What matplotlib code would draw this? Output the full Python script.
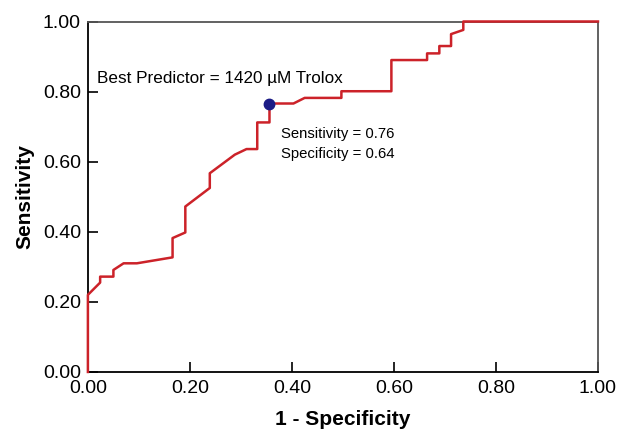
import matplotlib
matplotlib.use("Agg")
from matplotlib import pyplot as plt

plt.rcParams['font.family'] = ['Liberation Sans', 'DejaVu Sans']

# ROC curve
fpr = [0.0, 0.0, 0.024, 0.024, 0.05, 0.05, 0.07, 0.096, 0.166, 0.166, 0.191, 0.191,
       0.239, 0.239, 0.288, 0.311, 0.332, 0.332, 0.356, 0.356, 0.403, 0.425, 0.497,
       0.497, 0.595, 0.595, 0.665, 0.665, 0.689, 0.689, 0.712, 0.712, 0.736, 0.736, 1.0]
tpr = [0.0, 0.22, 0.255, 0.272, 0.272, 0.291, 0.31, 0.31, 0.327, 0.382, 0.398, 0.472,
       0.525, 0.567, 0.62, 0.636, 0.636, 0.712, 0.712, 0.766, 0.766, 0.782, 0.782,
       0.801, 0.801, 0.89, 0.89, 0.909, 0.909, 0.93, 0.93, 0.964, 0.976, 1.0, 1.0]
best = (0.356, 0.766)
ticks = [0.0, 0.2, 0.4, 0.6, 0.8, 1.0]
tick_labels = ['0.00', '0.20', '0.40', '0.60', '0.80', '1.00']

fig = plt.figure(figsize=(6.19, 4.30), dpi=100)
ax = fig.add_axes([0.142, 0.135, 0.824, 0.815])

ax.plot(fpr, tpr, '-', color='#cc2229', lw=1.8, clip_on=False, zorder=3)
ax.plot(best[0], best[1], 'o', color='#1c1c86', ms=7.5, zorder=4)

ax.text(0.018, 0.838, 'Best Predictor = 1420 \u00b5M Trolox', fontsize=12.3, va='center')
ax.text(0.378, 0.68, 'Sensitivity = 0.76', fontsize=10.7, va='center')
ax.text(0.378, 0.622, 'Specificity = 0.64', fontsize=10.7, va='center')

ax.set_xlim(0, 1)
ax.set_ylim(0, 1)
ax.set_xticks(ticks)
ax.set_xticklabels(tick_labels)
ax.set_yticks(ticks)
ax.set_yticklabels(tick_labels)
ax.tick_params(axis='both', direction='in', labelsize=14, length=7, width=1.2, pad=5)
ax.tick_params(axis='x', pad=6)
for side in ['left', 'bottom']:
    ax.spines[side].set_linewidth(1.3)
for side in ['top', 'right']:
    ax.spines[side].set_color('#555555')
    ax.spines[side].set_linewidth(1.3)

ax.set_xlabel('1 - Specificity', fontsize=15, fontweight='bold', labelpad=9)
ax.set_ylabel('Sensitivity', fontsize=15, fontweight='bold', labelpad=6)

fig.savefig('out.png', dpi=100)
